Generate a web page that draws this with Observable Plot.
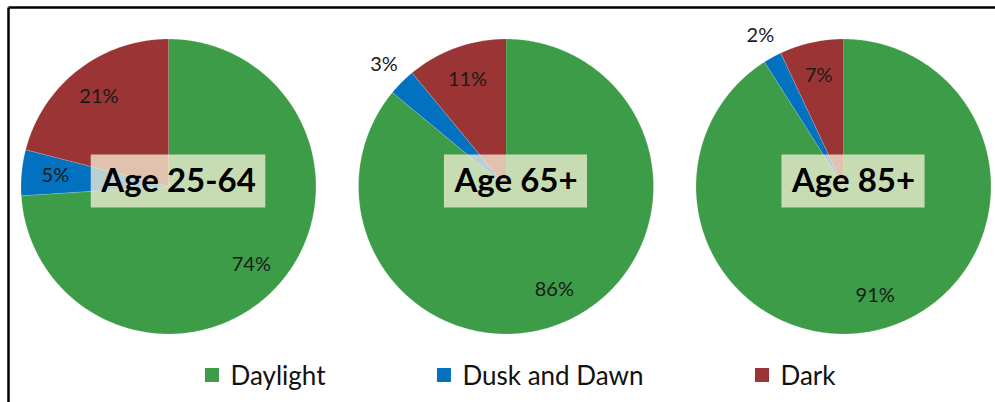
<!DOCTYPE html>
<html><head><meta charset="utf-8">
<script src="https://cdn.jsdelivr.net/npm/d3@7"></script>
<script src="https://cdn.jsdelivr.net/npm/@observablehq/plot@0.6"></script>
<style>html,body{margin:0;padding:0;background:#fff;} #chart{width:995px;height:402px;overflow:hidden}</style>
</head><body><div id="chart"></div>
<script>
const groups = ["Age 25-64", "Age 65+", "Age 85+"];
const categories = ["Daylight", "Dusk and Dawn", "Dark"];
const daylight = [74, 86, 91];
const duskDawn = [5, 3, 2];
const dark = [21, 11, 7];
const colors = ["#3d9c48", "#0271bf", "#9b3535"];

const W = 995, H = 402;
const R = 147.5, cy = 186, cx0 = 168, step = 337.5;
const font = "Lato, 'Open Sans', sans-serif";
const titleSize = 33, labelSize = 20, legSize = 26;

function measure(text, size, weight) {
  const ctx = document.createElement("canvas").getContext("2d");
  ctx.font = `${weight || "normal"} ${size}px Lato`;
  return ctx.measureText(text).width;
}

const seriesByCat = [daylight, duskDawn, dark];
const slicePts = [], labels = [], boxes = [], titles = [];
groups.forEach((g, i) => {
  const cx = cx0 + i * step;
  const vals = seriesByCat.map(s => s[i]);
  const total = d3.sum(vals);
  let a0 = 0;
  vals.forEach((v, j) => {
    const a1 = a0 + v / total * 2 * Math.PI;
    const id = g + "|" + categories[j];
    slicePts.push({id, cat: categories[j], x: cx, y: cy});
    const n = Math.max(2, Math.ceil((a1 - a0) / (Math.PI / 360)));
    for (let k = 0; k <= n; k++) {
      const a = a0 + (a1 - a0) * k / n;
      slicePts.push({id, cat: categories[j], x: cx + R * Math.sin(a), y: cy - R * Math.cos(a)});
    }
    const am = (a0 + a1) / 2, rr = v < 4 ? 1.17 * R : 0.77 * R;
    labels.push({x: cx + rr * Math.sin(am), y: cy - rr * Math.cos(am), text: v + "%"});
    a0 = a1;
  });
  const tw = measure(g, titleSize, "bold");
  const bx = cx + 10, by = cy - 5;
  boxes.push({x1: bx - tw / 2 - 10, x2: bx + tw / 2 + 10, y1: by - 26.5, y2: by + 26.5});
  titles.push({x: bx, y: by, text: g});
});

const sw = 14, gapText = 11, gapItem = 112, legCenter = 520, legY = 375;
const widths = categories.map(c => sw + gapText + measure(c, legSize));
const totalW = d3.sum(widths) + gapItem * (categories.length - 1);
let lx = legCenter - totalW / 2;
const legSwatches = [], legTexts = [];
categories.forEach((c, j) => {
  legSwatches.push({cat: c, x1: lx, x2: lx + sw, y1: legY - sw / 2, y2: legY + sw / 2});
  legTexts.push({x: lx + sw + gapText, y: legY + 1, text: c});
  lx += widths[j] + gapItem;
});

const frame = [{x1: 8, y1: 7, x2: W, y2: 7}, {x1: 8, y1: 7, x2: 8, y2: H}];

const chart = Plot.plot({
  width: W, height: H, margin: 0,
  style: {fontFamily: font, background: "#fff"},
  x: {domain: [0, W], range: [0, W], axis: null},
  y: {domain: [0, H], range: [0, H], axis: null},
  color: {domain: categories, range: colors},
  marks: [
    Plot.line(slicePts, {x: "x", y: "y", z: "id", fill: "cat", stroke: "#fff", strokeOpacity: 0.35, strokeWidth: 0.6}),
    Plot.rect(boxes, {x1: "x1", x2: "x2", y1: "y1", y2: "y2", fill: "#f7f2d8", fillOpacity: 0.75}),
    Plot.text(titles, {x: "x", y: "y", text: "text", fontSize: titleSize, fontWeight: "bold", fill: "#000", fontFamily: font}),
    Plot.text(labels, {x: "x", y: "y", text: "text", fontSize: labelSize, fill: "#1a1a1a", fontFamily: font}),
    Plot.rect(legSwatches, {x1: "x1", x2: "x2", y1: "y1", y2: "y2", fill: "cat"}),
    Plot.text(legTexts, {x: "x", y: "y", text: "text", textAnchor: "start", fontSize: legSize, fill: "#111", fontFamily: font}),
    Plot.link(frame, {x1: "x1", y1: "y1", x2: "x2", y2: "y2", stroke: "#000", strokeWidth: 2.5})
  ]
});
document.getElementById("chart").appendChild(chart);
</script>
</body></html>
